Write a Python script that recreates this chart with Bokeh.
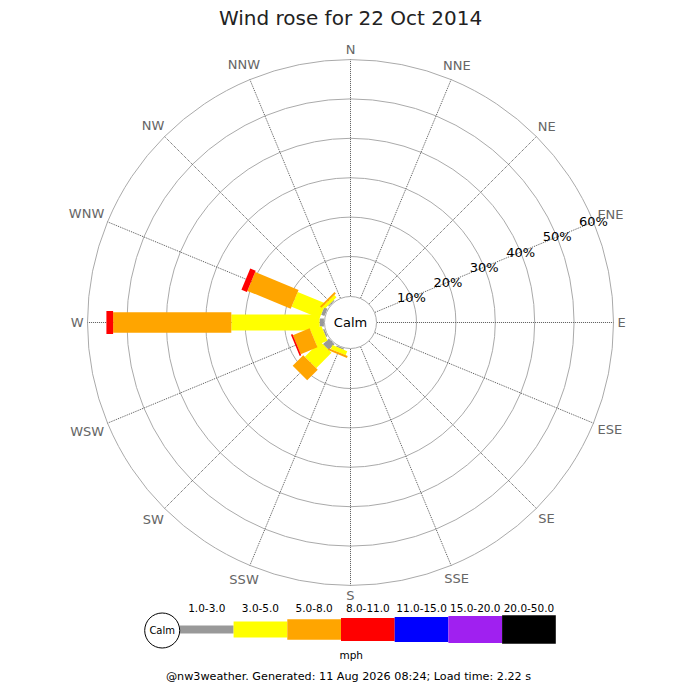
import numpy as np
from bokeh.plotting import figure
from bokeh.models import Range1d
from bokeh.core.properties import value
from bokeh.embed import file_html
from bokeh.resources import INLINE

FONT = "DejaVu Sans"

# wind directions, 16 points clockwise from N
directions = ["N", "NNE", "NE", "ENE", "E", "ESE", "SE", "SSE",
              "S", "SSW", "SW", "WSW", "W", "WNW", "NW", "NNW"]

# percentage of time per speed bin (mph) for each direction
bin_labels = ["1.0-3.0", "3.0-5.0", "5.0-8.0", "8.0-11.0", "11.0-15.0", "15.0-20.0", "20.0-50.0"]
bin_colors = ["#999999", "#ffff00", "#ffa500", "#ff0000", "#0000ff", "#a020f0", "#000000"]
bin_widths = [8, 16, 20.5, 23, 25, 27, 28.3]

spd_1_3 = [0, 0, 0, 0, 0, 0, 0, 0, 0, 0.3, 2.1, 0.4, 1.1, 0.9, 0.3, 0]
spd_3_5 = [0, 0, 0, 0, 0, 0, 0, 0, 0, 1.1, 5.5, 3.0, 22.4, 7.7, 0.8, 0]
spd_5_8 = [0, 0, 0, 0, 0, 0, 0, 0, 0, 0.5, 3.8, 4.6, 30.0, 11.9, 0.5, 0]
spd_8_11 = [0, 0, 0, 0, 0, 0, 0, 0, 0, 0, 0, 0.4, 1.7, 1.5, 0, 0]
spd_11_15 = [0] * 16
spd_15_20 = [0] * 16
spd_20_50 = [0] * 16
bins = [spd_1_3, spd_3_5, spd_5_8, spd_8_11, spd_11_15, spd_15_20, spd_20_50]

ring_pcts = [10, 20, 30, 40, 50, 60]

title = "Wind rose for 22 Oct 2014"
footer = "@nw3weather. Generated: 11 Aug 2026 08:24; Load time: 2.22 s"

# radial scale: calm circle radius plus px per percent
R0 = 26.6
K = 3.94
r_of = lambda pct: R0 + K * pct
R_OUT = r_of(max(ring_pcts))

p = figure(width=684, height=684, x_range=Range1d(-350, 334), y_range=Range1d(-362, 322),
           output_backend="svg", toolbar_location=None, min_border=0,
           x_axis_location=None, y_axis_location=None)
p.grid.visible = False
p.outline_line_color = None

# rings
p.circle(x=[0] * len(ring_pcts), y=[0] * len(ring_pcts), radius=[r_of(v) for v in ring_pcts],
         fill_color=None, line_color="#aaaaaa", line_width=1)

# spokes
ang = np.radians(np.arange(16) * 22.5)
p.segment(x0=R0 * np.sin(ang), y0=R0 * np.cos(ang), x1=R_OUT * np.sin(ang), y1=R_OUT * np.cos(ang),
          line_color="#555555", line_dash="1 1", line_width=1)

# stacked bars
cum = np.zeros(16)
for vals, col, w in zip(bins, bin_colors, bin_widths):
    vals = np.array(vals, dtype=float)
    m = vals > 0
    r_in = r_of(cum[m])
    r_out = r_of(cum[m] + vals[m])
    rc = (r_in + r_out) / 2
    a = ang[m]
    p.rect(x=rc * np.sin(a), y=rc * np.cos(a), width=r_out - r_in, height=w,
           angle=np.pi / 2 - a, fill_color=col, line_color=None)
    cum = cum + vals

# calm circle
p.circle(x=[0], y=[0], radius=R0 - 0.6, fill_color="white", line_color="#aaaaaa")
p.text(x=[0], y=[0], text=["Calm"], text_font=value(FONT), text_font_size="13px",
       text_align="center", text_baseline="middle", text_color="black")

# percent labels along ENE
b_lab = np.radians(67.5)
rp = np.array([r_of(v) for v in ring_pcts])
p.text(x=rp * np.sin(b_lab), y=rp * np.cos(b_lab), text=["%d%%" % v for v in ring_pcts],
       text_font=value(FONT), text_font_size="13px", text_align="center",
       text_baseline="middle", text_color="black")

# direction labels
cw = {"N": 0.748, "E": 0.632, "S": 0.635, "W": 0.989}
lx, ly = [], []
for d, a in zip(directions, ang):
    w = sum(cw[c] for c in d) * 13
    r = 267 + abs(np.sin(a)) * w / 2 + abs(np.cos(a)) * 6
    lx.append(r * np.sin(a))
    ly.append(r * np.cos(a))
p.text(x=lx, y=ly, text=directions, text_font=value(FONT), text_font_size="13px",
       text_align="center", text_baseline="middle", text_color="#666666")

# title
p.text(x=[0], y=[305], text=[title], text_font=value(FONT), text_font_size="20px",
       text_align="center", text_baseline="middle", text_color="#222222")

# legend
LEG_Y = -307
seg_w = 53.7
x0 = -170.6 + np.arange(len(bin_labels)) * seg_w
p.rect(x=x0 + seg_w / 2, y=[LEG_Y] * len(x0), width=seg_w, height=bin_widths,
       fill_color=bin_colors, line_color=None)
p.circle(x=[-188.3], y=[LEG_Y - 1], radius=17.5, fill_color="white", line_color="black")
p.text(x=[-188.3], y=[LEG_Y - 1], text=["Calm"], text_font=value(FONT), text_font_size="10px",
       text_align="center", text_baseline="middle", text_color="black")
p.text(x=x0 + seg_w / 2, y=[-285] * len(x0), text=bin_labels, text_font=value(FONT),
       text_font_size="10.5px", text_align="center", text_baseline="middle", text_color="black")
p.text(x=[0.7], y=[-332], text=["mph"], text_font=value(FONT), text_font_size="10.5px",
       text_align="center", text_baseline="middle", text_color="black")

# footer
p.text(x=[-2], y=[-360], text=[footer], text_font=value(FONT), text_font_size="11.2px",
       text_align="center", text_baseline="bottom", text_color="black")

open("out.html", "w").write(file_html(p, INLINE))
